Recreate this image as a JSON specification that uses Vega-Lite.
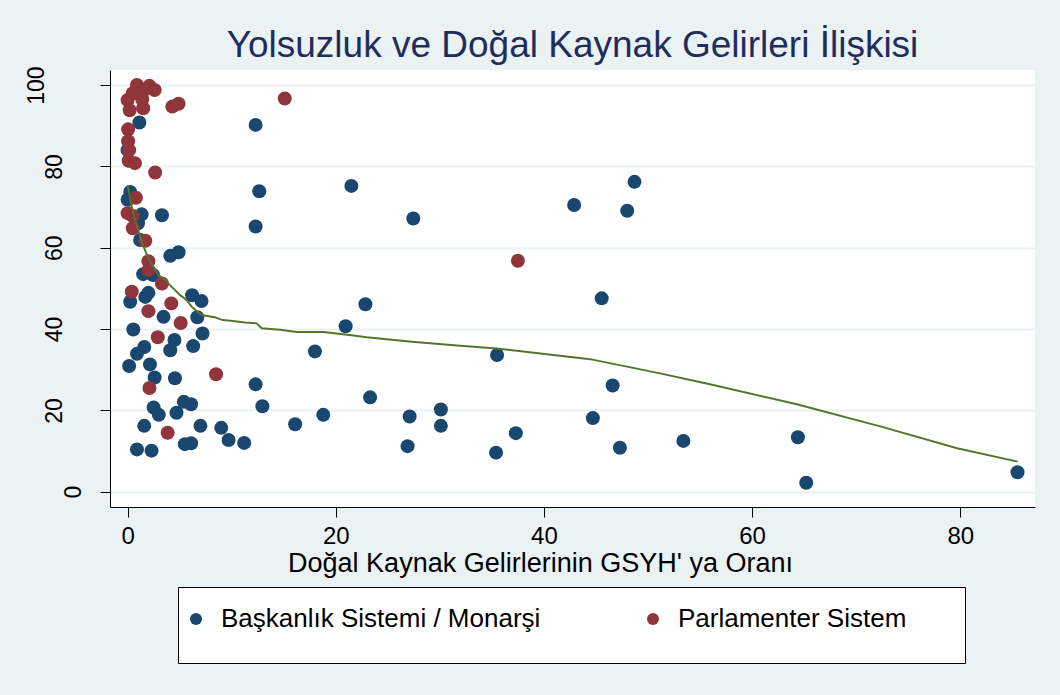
{
  "$schema": "https://vega.github.io/schema/vega-lite/v6.json",
  "width": 925,
  "height": 437,
  "autosize": "none",
  "padding": {"left": 110, "top": 70, "right": 25, "bottom": 188},
  "background": "#EAF2F3",
  "config": {"view": {"fill": "white", "stroke": null}, "font": "Liberation Sans"},
  "title": {"text": "Yolsuzluk ve Doğal Kaynak Gelirleri İlişkisi", "fontSize": 37, "font": "Liberation Sans", "fontWeight": "normal", "color": "#1F2D5C", "anchor": "middle", "baseline": "alphabetic", "offset": 10, "dy": 38},
  "datasets": {
    "pts": [
      {"oran": 1.13, "yolsuzluk": 90.8, "sistem": "Başkanlık Sistemi / Monarşi"},
      {"oran": 12.3, "yolsuzluk": 90.2, "sistem": "Başkanlık Sistemi / Monarşi"},
      {"oran": 0.0, "yolsuzluk": 84.0, "sistem": "Başkanlık Sistemi / Monarşi"},
      {"oran": 0.25, "yolsuzluk": 73.7, "sistem": "Başkanlık Sistemi / Monarşi"},
      {"oran": 0.0, "yolsuzluk": 71.8, "sistem": "Başkanlık Sistemi / Monarşi"},
      {"oran": 12.65, "yolsuzluk": 73.9, "sistem": "Başkanlık Sistemi / Monarşi"},
      {"oran": 21.5, "yolsuzluk": 75.2, "sistem": "Başkanlık Sistemi / Monarşi"},
      {"oran": 1.35, "yolsuzluk": 68.2, "sistem": "Başkanlık Sistemi / Monarşi"},
      {"oran": 3.3, "yolsuzluk": 68.0, "sistem": "Başkanlık Sistemi / Monarşi"},
      {"oran": 1.0, "yolsuzluk": 66.0, "sistem": "Başkanlık Sistemi / Monarşi"},
      {"oran": 12.3, "yolsuzluk": 65.2, "sistem": "Başkanlık Sistemi / Monarşi"},
      {"oran": 27.45, "yolsuzluk": 67.2, "sistem": "Başkanlık Sistemi / Monarşi"},
      {"oran": 42.9, "yolsuzluk": 70.5, "sistem": "Başkanlık Sistemi / Monarşi"},
      {"oran": 48.7, "yolsuzluk": 76.2, "sistem": "Başkanlık Sistemi / Monarşi"},
      {"oran": 48.0, "yolsuzluk": 69.1, "sistem": "Başkanlık Sistemi / Monarşi"},
      {"oran": 1.2, "yolsuzluk": 61.9, "sistem": "Başkanlık Sistemi / Monarşi"},
      {"oran": 4.1, "yolsuzluk": 58.0, "sistem": "Başkanlık Sistemi / Monarşi"},
      {"oran": 4.9, "yolsuzluk": 58.9, "sistem": "Başkanlık Sistemi / Monarşi"},
      {"oran": 1.5, "yolsuzluk": 53.5, "sistem": "Başkanlık Sistemi / Monarşi"},
      {"oran": 2.45, "yolsuzluk": 53.3, "sistem": "Başkanlık Sistemi / Monarşi"},
      {"oran": 2.0, "yolsuzluk": 48.9, "sistem": "Başkanlık Sistemi / Monarşi"},
      {"oran": 1.7, "yolsuzluk": 47.9, "sistem": "Başkanlık Sistemi / Monarşi"},
      {"oran": 0.25, "yolsuzluk": 46.7, "sistem": "Başkanlık Sistemi / Monarşi"},
      {"oran": 6.2, "yolsuzluk": 48.3, "sistem": "Başkanlık Sistemi / Monarşi"},
      {"oran": 7.1, "yolsuzluk": 46.9, "sistem": "Başkanlık Sistemi / Monarşi"},
      {"oran": 6.7, "yolsuzluk": 42.9, "sistem": "Başkanlık Sistemi / Monarşi"},
      {"oran": 3.45, "yolsuzluk": 43.0, "sistem": "Başkanlık Sistemi / Monarşi"},
      {"oran": 0.55, "yolsuzluk": 39.9, "sistem": "Başkanlık Sistemi / Monarşi"},
      {"oran": 7.2, "yolsuzluk": 38.9, "sistem": "Başkanlık Sistemi / Monarşi"},
      {"oran": 4.5, "yolsuzluk": 37.3, "sistem": "Başkanlık Sistemi / Monarşi"},
      {"oran": 4.1, "yolsuzluk": 34.8, "sistem": "Başkanlık Sistemi / Monarşi"},
      {"oran": 1.6, "yolsuzluk": 35.6, "sistem": "Başkanlık Sistemi / Monarşi"},
      {"oran": 0.9, "yolsuzluk": 33.9, "sistem": "Başkanlık Sistemi / Monarşi"},
      {"oran": 6.3, "yolsuzluk": 35.8, "sistem": "Başkanlık Sistemi / Monarşi"},
      {"oran": 0.15, "yolsuzluk": 30.9, "sistem": "Başkanlık Sistemi / Monarşi"},
      {"oran": 2.15, "yolsuzluk": 31.3, "sistem": "Başkanlık Sistemi / Monarşi"},
      {"oran": 2.6, "yolsuzluk": 28.1, "sistem": "Başkanlık Sistemi / Monarşi"},
      {"oran": 4.55, "yolsuzluk": 27.9, "sistem": "Başkanlık Sistemi / Monarşi"},
      {"oran": 12.3, "yolsuzluk": 26.4, "sistem": "Başkanlık Sistemi / Monarşi"},
      {"oran": 2.5, "yolsuzluk": 20.7, "sistem": "Başkanlık Sistemi / Monarşi"},
      {"oran": 3.0, "yolsuzluk": 18.9, "sistem": "Başkanlık Sistemi / Monarşi"},
      {"oran": 4.7, "yolsuzluk": 19.4, "sistem": "Başkanlık Sistemi / Monarşi"},
      {"oran": 5.4, "yolsuzluk": 22.1, "sistem": "Başkanlık Sistemi / Monarşi"},
      {"oran": 6.1, "yolsuzluk": 21.5, "sistem": "Başkanlık Sistemi / Monarşi"},
      {"oran": 1.6, "yolsuzluk": 16.2, "sistem": "Başkanlık Sistemi / Monarşi"},
      {"oran": 7.0, "yolsuzluk": 16.2, "sistem": "Başkanlık Sistemi / Monarşi"},
      {"oran": 9.0, "yolsuzluk": 15.7, "sistem": "Başkanlık Sistemi / Monarşi"},
      {"oran": 9.7, "yolsuzluk": 12.7, "sistem": "Başkanlık Sistemi / Monarşi"},
      {"oran": 11.2, "yolsuzluk": 12.0, "sistem": "Başkanlık Sistemi / Monarşi"},
      {"oran": 5.5, "yolsuzluk": 11.7, "sistem": "Başkanlık Sistemi / Monarşi"},
      {"oran": 6.1, "yolsuzluk": 11.9, "sistem": "Başkanlık Sistemi / Monarşi"},
      {"oran": 0.9, "yolsuzluk": 10.4, "sistem": "Başkanlık Sistemi / Monarşi"},
      {"oran": 2.3, "yolsuzluk": 10.1, "sistem": "Başkanlık Sistemi / Monarşi"},
      {"oran": 12.95, "yolsuzluk": 21.0, "sistem": "Başkanlık Sistemi / Monarşi"},
      {"oran": 16.1, "yolsuzluk": 16.6, "sistem": "Başkanlık Sistemi / Monarşi"},
      {"oran": 18.8, "yolsuzluk": 18.9, "sistem": "Başkanlık Sistemi / Monarşi"},
      {"oran": 18.0, "yolsuzluk": 34.5, "sistem": "Başkanlık Sistemi / Monarşi"},
      {"oran": 20.95, "yolsuzluk": 40.7, "sistem": "Başkanlık Sistemi / Monarşi"},
      {"oran": 22.85, "yolsuzluk": 46.1, "sistem": "Başkanlık Sistemi / Monarşi"},
      {"oran": 23.3, "yolsuzluk": 23.2, "sistem": "Başkanlık Sistemi / Monarşi"},
      {"oran": 27.1, "yolsuzluk": 18.5, "sistem": "Başkanlık Sistemi / Monarşi"},
      {"oran": 26.9, "yolsuzluk": 11.2, "sistem": "Başkanlık Sistemi / Monarşi"},
      {"oran": 30.1, "yolsuzluk": 20.2, "sistem": "Başkanlık Sistemi / Monarşi"},
      {"oran": 30.1, "yolsuzluk": 16.2, "sistem": "Başkanlık Sistemi / Monarşi"},
      {"oran": 35.5, "yolsuzluk": 33.6, "sistem": "Başkanlık Sistemi / Monarşi"},
      {"oran": 35.4, "yolsuzluk": 9.6, "sistem": "Başkanlık Sistemi / Monarşi"},
      {"oran": 37.3, "yolsuzluk": 14.4, "sistem": "Başkanlık Sistemi / Monarşi"},
      {"oran": 45.55, "yolsuzluk": 47.55, "sistem": "Başkanlık Sistemi / Monarşi"},
      {"oran": 46.6, "yolsuzluk": 26.1, "sistem": "Başkanlık Sistemi / Monarşi"},
      {"oran": 44.7, "yolsuzluk": 18.1, "sistem": "Başkanlık Sistemi / Monarşi"},
      {"oran": 47.3, "yolsuzluk": 10.8, "sistem": "Başkanlık Sistemi / Monarşi"},
      {"oran": 53.4, "yolsuzluk": 12.5, "sistem": "Başkanlık Sistemi / Monarşi"},
      {"oran": 64.4, "yolsuzluk": 13.4, "sistem": "Başkanlık Sistemi / Monarşi"},
      {"oran": 65.2, "yolsuzluk": 2.2, "sistem": "Başkanlık Sistemi / Monarşi"},
      {"oran": 85.5, "yolsuzluk": 4.8, "sistem": "Başkanlık Sistemi / Monarşi"},
      {"oran": 0.9, "yolsuzluk": 100.0, "sistem": "Parlamenter Sistem"},
      {"oran": 2.1, "yolsuzluk": 99.8, "sistem": "Parlamenter Sistem"},
      {"oran": 2.6, "yolsuzluk": 98.8, "sistem": "Parlamenter Sistem"},
      {"oran": 1.5, "yolsuzluk": 98.5, "sistem": "Parlamenter Sistem"},
      {"oran": 0.5, "yolsuzluk": 98.0, "sistem": "Parlamenter Sistem"},
      {"oran": 0.0, "yolsuzluk": 96.3, "sistem": "Parlamenter Sistem"},
      {"oran": 1.4, "yolsuzluk": 96.5, "sistem": "Parlamenter Sistem"},
      {"oran": 1.5, "yolsuzluk": 94.3, "sistem": "Parlamenter Sistem"},
      {"oran": 0.2, "yolsuzluk": 93.8, "sistem": "Parlamenter Sistem"},
      {"oran": 4.3, "yolsuzluk": 94.7, "sistem": "Parlamenter Sistem"},
      {"oran": 4.9, "yolsuzluk": 95.4, "sistem": "Parlamenter Sistem"},
      {"oran": 15.1, "yolsuzluk": 96.7, "sistem": "Parlamenter Sistem"},
      {"oran": 0.05, "yolsuzluk": 89.1, "sistem": "Parlamenter Sistem"},
      {"oran": 0.05, "yolsuzluk": 86.2, "sistem": "Parlamenter Sistem"},
      {"oran": 0.15, "yolsuzluk": 84.0, "sistem": "Parlamenter Sistem"},
      {"oran": 0.1, "yolsuzluk": 81.4, "sistem": "Parlamenter Sistem"},
      {"oran": 0.7, "yolsuzluk": 80.8, "sistem": "Parlamenter Sistem"},
      {"oran": 2.65, "yolsuzluk": 78.5, "sistem": "Parlamenter Sistem"},
      {"oran": 0.8, "yolsuzluk": 72.3, "sistem": "Parlamenter Sistem"},
      {"oran": 0.0, "yolsuzluk": 68.5, "sistem": "Parlamenter Sistem"},
      {"oran": 0.5, "yolsuzluk": 67.8, "sistem": "Parlamenter Sistem"},
      {"oran": 0.5, "yolsuzluk": 64.8, "sistem": "Parlamenter Sistem"},
      {"oran": 1.7, "yolsuzluk": 61.7, "sistem": "Parlamenter Sistem"},
      {"oran": 2.0, "yolsuzluk": 56.7, "sistem": "Parlamenter Sistem"},
      {"oran": 2.0, "yolsuzluk": 54.5, "sistem": "Parlamenter Sistem"},
      {"oran": 3.3, "yolsuzluk": 51.2, "sistem": "Parlamenter Sistem"},
      {"oran": 0.4, "yolsuzluk": 49.2, "sistem": "Parlamenter Sistem"},
      {"oran": 4.2, "yolsuzluk": 46.3, "sistem": "Parlamenter Sistem"},
      {"oran": 2.0, "yolsuzluk": 44.4, "sistem": "Parlamenter Sistem"},
      {"oran": 5.1, "yolsuzluk": 41.5, "sistem": "Parlamenter Sistem"},
      {"oran": 2.9, "yolsuzluk": 38.0, "sistem": "Parlamenter Sistem"},
      {"oran": 8.5, "yolsuzluk": 28.9, "sistem": "Parlamenter Sistem"},
      {"oran": 2.1, "yolsuzluk": 25.5, "sistem": "Parlamenter Sistem"},
      {"oran": 3.85, "yolsuzluk": 14.5, "sistem": "Parlamenter Sistem"},
      {"oran": 37.5, "yolsuzluk": 56.8, "sistem": "Parlamenter Sistem"}
    ],
    "fit": [
      {"oran": 0.0, "yolsuzluk": 75.4},
      {"oran": 0.39, "yolsuzluk": 70.1},
      {"oran": 0.87, "yolsuzluk": 65.6},
      {"oran": 1.35, "yolsuzluk": 61.5},
      {"oran": 1.99, "yolsuzluk": 57.4},
      {"oran": 2.95, "yolsuzluk": 53.3},
      {"oran": 3.59, "yolsuzluk": 52.1},
      {"oran": 4.07, "yolsuzluk": 50.8},
      {"oran": 5.03, "yolsuzluk": 48.4},
      {"oran": 5.68, "yolsuzluk": 47.1},
      {"oran": 6.16, "yolsuzluk": 45.5},
      {"oran": 6.64, "yolsuzluk": 44.4},
      {"oran": 7.22, "yolsuzluk": 43.4},
      {"oran": 8.4, "yolsuzluk": 42.9},
      {"oran": 9.14, "yolsuzluk": 42.2},
      {"oran": 9.68, "yolsuzluk": 42.1},
      {"oran": 11.28, "yolsuzluk": 41.6},
      {"oran": 12.4, "yolsuzluk": 41.4},
      {"oran": 12.88, "yolsuzluk": 40.2},
      {"oran": 14.64, "yolsuzluk": 39.8},
      {"oran": 16.25, "yolsuzluk": 39.3},
      {"oran": 18.8, "yolsuzluk": 39.3},
      {"oran": 21.53, "yolsuzluk": 38.5},
      {"oran": 22.97, "yolsuzluk": 38.0},
      {"oran": 27.3, "yolsuzluk": 36.9},
      {"oran": 31.95, "yolsuzluk": 35.9},
      {"oran": 35.49, "yolsuzluk": 35.2},
      {"oran": 44.43, "yolsuzluk": 32.6},
      {"oran": 48.1, "yolsuzluk": 30.7},
      {"oran": 51.15, "yolsuzluk": 29.1},
      {"oran": 55.84, "yolsuzluk": 26.5},
      {"oran": 64.3, "yolsuzluk": 21.5},
      {"oran": 72.4, "yolsuzluk": 16.0},
      {"oran": 79.7, "yolsuzluk": 10.7},
      {"oran": 85.51, "yolsuzluk": 7.4}
    ]
  },
  "layer": [
    {
      "data": {"name": "pts"},
      "mark": {"type": "circle", "size": 196, "opacity": 1},
      "encoding": {
        "x": {
          "field": "oran", "type": "quantitative",
          "scale": {"domain": [-1.69, 87.18], "nice": false, "zero": false},
          "axis": {
            "values": [0, 20, 40, 60, 80], "grid": false,
            "title": "Doğal Kaynak Gelirlerinin GSYH' ya Oranı",
            "titleFont": "Liberation Sans", "titleFontSize": 27, "titleFontWeight": "normal", "titleColor": "black",
            "titleX": 430, "titleY": 64, "titleAlign": "center", "titleBaseline": "alphabetic",
            "labelFont": "Liberation Sans", "labelFontSize": 24, "labelColor": "black", "labelPadding": 7, "labelFlush": false,
            "tickColor": "black", "tickSize": 10, "tickWidth": 1, "domainColor": "black", "domainWidth": 1
          }
        },
        "y": {
          "field": "yolsuzluk", "type": "quantitative",
          "scale": {"domain": [-3.76, 103.7], "nice": false, "zero": false},
          "axis": {
            "values": [0, 20, 40, 60, 80, 100], "title": null,
            "grid": true, "gridColor": "#EAF2F3", "gridWidth": 2,
            "labelAngle": -90, "labelAlign": "center", "labelPadding": 57,
            "labelBaseline": {"condition": [{"test": "datum.value == 0", "value": "line-top"}, {"test": "datum.value == 100", "value": "alphabetic"}], "value": "top"},
            "labelLineHeight": 61,
            "labelFont": "Liberation Sans", "labelFontSize": 23, "labelColor": "black", "labelFlush": false,
            "tickColor": "black", "tickSize": 10, "tickWidth": 1, "domainColor": "black", "domainWidth": 1
          }
        },
        "color": {
          "field": "sistem", "type": "nominal",
          "scale": {"domain": ["Başkanlık Sistemi / Monarşi", "Parlamenter Sistem"], "range": ["#1A476F", "#90353B"]},
          "legend": {
            "orient": "none", "legendX": 68, "legendY": 517,
            "direction": "horizontal", "columns": 2,
            "title": " ", "titleOrient": "right", "titleFontSize": 6, "titlePadding": 54,
            "fillColor": "white", "strokeColor": "black", "padding": 5, "clipHeight": 66,
            "symbolType": "circle", "symbolSize": 144, "symbolStrokeWidth": 0, "symbolOpacity": 1,
            "labelFont": "Liberation Sans", "labelFontSize": 26, "labelColor": "black", "labelOffset": 12, "labelLimit": 600,
            "columnPadding": 99,
            "encode": {
              "symbols": {"update": {"y": {"value": 27}}},
              "labels": {"update": {"y": {"value": 27}}}
            }
          }
        }
      }
    },
    {
      "data": {"name": "fit"},
      "mark": {"type": "line", "color": "#55752F", "strokeWidth": 2},
      "encoding": {
        "x": {"field": "oran", "type": "quantitative"},
        "y": {"field": "yolsuzluk", "type": "quantitative"}
      }
    }
  ]
}
